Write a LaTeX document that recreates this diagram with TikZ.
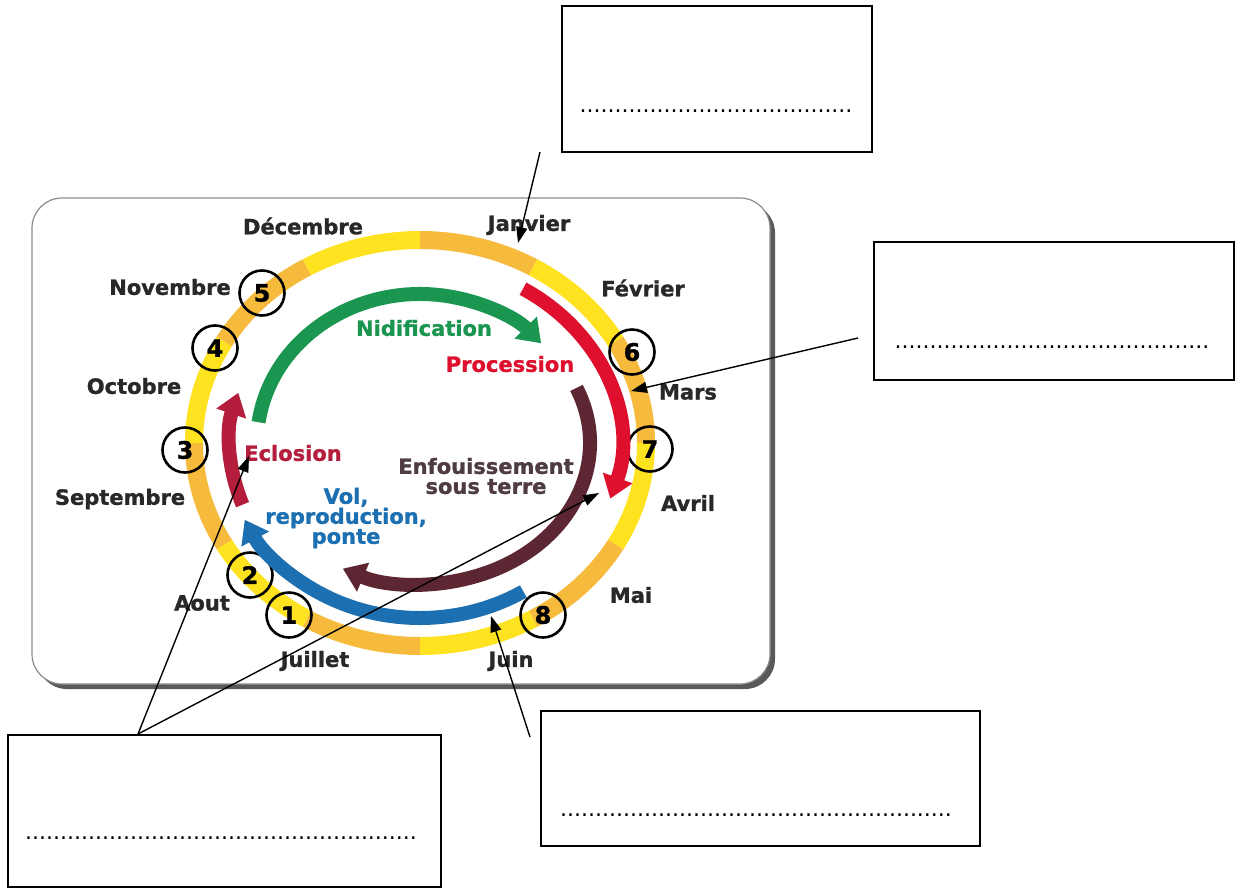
\documentclass[tikz,border=0pt]{standalone}
\usepackage{fontspec}
\setmainfont{DejaVu Sans}[BoldFeatures={FakeBold=1.2}]
\usetikzlibrary{arrows.meta,positioning,shadows}

\definecolor{ringyellow}{RGB}{255,226,32}
\definecolor{ringorange}{RGB}{246,186,60}
\definecolor{monthgray}{RGB}{40,40,40}
\definecolor{nidcol}{RGB}{26,150,80}
\definecolor{proccol}{RGB}{222,16,46}
\definecolor{enfcol}{RGB}{92,38,50}
\definecolor{enftext}{RGB}{78,60,64}
\definecolor{volcol}{RGB}{28,111,176}
\definecolor{eclcol}{RGB}{180,30,60}

\tikzset{%
    month/.style={%
        font=\bfseries\fontsize{21}{24}\selectfont, text=monthgray, inner sep=0pt
    },
    ring/.style={%
        line width=18pt
    },
    phase/.style={%
        line width=14pt, -{Triangle[width=30pt,length=22pt]}
    },
    phaselabel/.style={%
        font=\bfseries\fontsize{21}{20}\selectfont, align=center, inner sep=0pt
    },
    stage/.style={%
        circle, draw=black, line width=2.6pt, minimum size=45pt, inner sep=0pt,
        font=\bfseries\fontsize{24}{24}\selectfont
    },
    panelbox/.style={%
        draw=black!45, line width=1.2pt, fill=white, rounded corners=30pt,
        minimum width=738pt, minimum height=486pt,
        drop shadow={shadow xshift=5pt, shadow yshift=-5pt, fill=black!65, opacity=1}
    },
    answer/.style={%
        draw=black, line width=1.8pt, inner sep=0pt
    },
    dotline/.style={%
        font=\fontsize{22}{24}\selectfont, inner sep=0pt
    },
    pointer/.style={%
        line width=1.4pt, -{Triangle[width=11pt,length=16pt]}
    },
}

\begin{document}
\begin{tikzpicture}[x=1pt,y=-1pt]

    \useasboundingbox (0,0) rectangle (1236,889);

    % panel
    \node[panelbox] (panel) at (401,441) {};
    \coordinate (c) at (420,443);

    % month ring
    \foreach \i in {0,...,11}{
      \pgfmathsetmacro\a{-90+30*\i}
      \ifodd\i \def\col{ringyellow}\else\def\col{ringorange}\fi
      \draw[ring, \col] ([shift={(c)}]\a:226 and 203) arc[start angle=\a, end angle=\a+30, x radius=226, y radius=203];
    }

    % months
    \node[month] (dec) at (303,226) {Décembre};
    \node[month] (jan) at (529,225) {Janvier};
    \node[month] (feb) at (643,288) {Février};
    \node[month] (nov) at (170,287) {Novembre};
    \node[month] (oct) at (134,386) {Octobre};
    \node[month] (mar) at (688,392) {Mars};
    \node[month] (sep) at (120,499) {Septembre};
    \node[month] (apr) at (688,503) {Avril};
    \node[month] (aug) at (202,603) {Aout};
    \node[month] (may) at (631,595) {Mai};
    \node[month] (jul) at (315,661) {Juillet};
    \node[month] (jun) at (511,661) {Juin};

    % stages
    \node[stage] (s1) at (289,615) {1};
    \node[stage] (s2) at (250,575) {2};
    \node[stage] (s3) at (185,450) {3};
    \node[stage] (s4) at (215,348) {4};
    \node[stage] (s5) at (262,293) {5};
    \node[stage] (s6) at (632,352) {6};
    \node[stage] (s7) at (650,449) {7};
    \node[stage] (s8) at (543,615) {8};

    % phases
    \draw[phase, nidcol] ([shift={(c)}]-172:163 and 149) arc[start angle=-172, end angle=-42, x radius=163, y radius=149];
    \draw[phase, proccol] ([shift={(c)}]-59:200 and 180) arc[start angle=-59, end angle=18, x radius=200, y radius=180];
    \draw[phase, enfcol] ([shift={(c)}]-23:170 and 141) arc[start angle=-23, end angle=117, x radius=170, y radius=141];
    \draw[phase, volcol] ([shift={(c)}]58:195 and 175) arc[start angle=58, end angle=154, x radius=195, y radius=175];
    \draw[phase, eclcol] ([shift={(c)}]159:190 and 172) arc[start angle=159, end angle=197, x radius=190, y radius=172];

    \node[phaselabel, text=nidcol] (nid) at (424,328) {Nidification};
    \node[phaselabel, text=proccol] (proc) at (510,364) {Procession};
    \node[phaselabel, text=eclcol] (ecl) at (293,453) {Eclosion};
    \node[phaselabel, text=enftext] (enf) at (486,476) {Enfouissement\\sous terre};
    \node[phaselabel, text=volcol] (vol) at (346,518) {Vol,\\reproduction,\\ponte};

    % answer boxes
    \node[answer, minimum width=310pt, minimum height=146pt] (box1) at (717,79) {};
    \node[answer, minimum width=360pt, minimum height=138pt] (box2) at (1054,311) {};
    \node[answer, minimum width=433pt, minimum height=152pt] (box3) at (224.5,811) {};
    \node[answer, minimum width=439pt, minimum height=135pt] (box4) at (760.5,778.5) {};

    \node[dotline] (d1) at (716,111) {.......................................};
    \node[dotline] (d2) at (1052,347) {.............................................};
    \node[dotline] (d3) at (221,838) {........................................................};
    \node[dotline] (d4) at (756,815) {........................................................};

    % pointers
    \coordinate (p1) at (540,152);
    \coordinate (t1) at (518,243);
    \coordinate (p2) at (858,338);
    \coordinate (t2) at (631,391);
    \coordinate (p3) at (138,734);
    \coordinate (t3) at (249,456);
    \coordinate (t4) at (599,493);
    \coordinate (p4) at (530,737);
    \coordinate (t5) at (491,616);

    \draw[pointer] (p1) -- (t1);
    \draw[pointer] (p2) -- (t2);
    \draw[pointer] (p3) -- (t3);
    \draw[pointer] (p3) -- (t4);
    \draw[pointer] (p4) -- (t5);

\end{tikzpicture}
\end{document}
